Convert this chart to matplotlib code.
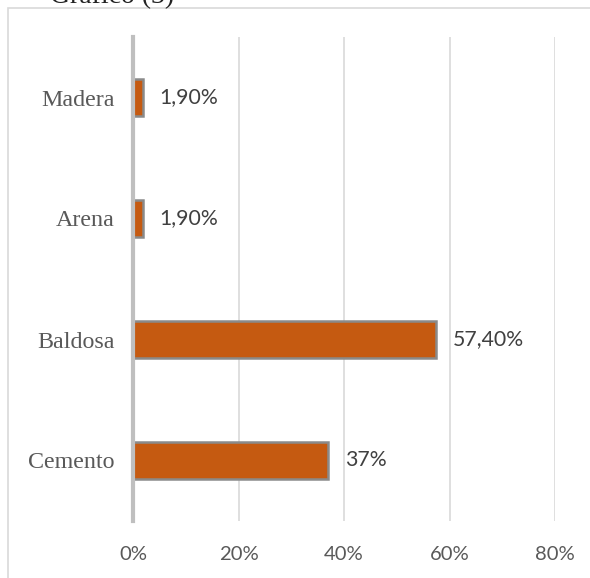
import matplotlib.pyplot as plt
from matplotlib.patches import Rectangle

categorias = ['Cemento', 'Baldosa', 'Arena', 'Madera']
valores = [37, 57.4, 1.9, 1.9]
etiquetas = ['37%', '57,40%', '1,90%', '1,90%']
ticks_x = [0, 20, 40, 60, 80]

fig = plt.figure(figsize=(5.9, 5.78), dpi=100)
ax = fig.add_axes([133 / 590, 1 - 521 / 578, (555 - 133) / 590, (521 - 37) / 578])

# marco exterior
fig.patches.append(Rectangle((8 / 590, -0.05), 1.0, 1 - 8 / 578 + 0.05,
                             transform=fig.transFigure, fill=False,
                             edgecolor='#d9d9d9', linewidth=1.2, zorder=0))
fig.text(0.085, 1 - 3 / 578, 'Gráfico (3)', fontsize=20, family='Liberation Serif',
         va='baseline', ha='left', color='#222222')

y = range(len(categorias))
ax.barh(y, valores, height=0.31, color='#c55a11', edgecolor='#8a8a8a',
        linewidth=1.8, zorder=3)

for i, (v, t) in enumerate(zip(valores, etiquetas)):
    ax.annotate(t, (v, i), xytext=(12, 0), textcoords='offset points',
                va='center', ha='left', fontsize=15.3, family='Lato', color='#404040')

ax.set_xlim(0, 80)
ax.set_ylim(-0.5, len(categorias) - 0.5)
ax.set_xticks(ticks_x)
ax.set_xticklabels([f'{t}%' for t in ticks_x], family='Lato', fontsize=14.6, color='#595959')
ax.set_yticks(list(y))
ax.set_yticklabels(categorias, family='Liberation Serif', fontsize=17.3, color='#595959')
ax.tick_params(axis='both', length=0)
ax.tick_params(axis='x', pad=18)
ax.tick_params(axis='y', pad=13)

ax.grid(axis='x', color='#d9d9d9', linewidth=1.2, zorder=0)
ax.set_axisbelow(True)
for s in ['top', 'right', 'bottom']:
    ax.spines[s].set_visible(False)
ax.spines['left'].set_color('#bfbfbf')
ax.spines['left'].set_linewidth(3)
ax.spines['left'].set_zorder(4)

fig.savefig('out.png', dpi=100)
